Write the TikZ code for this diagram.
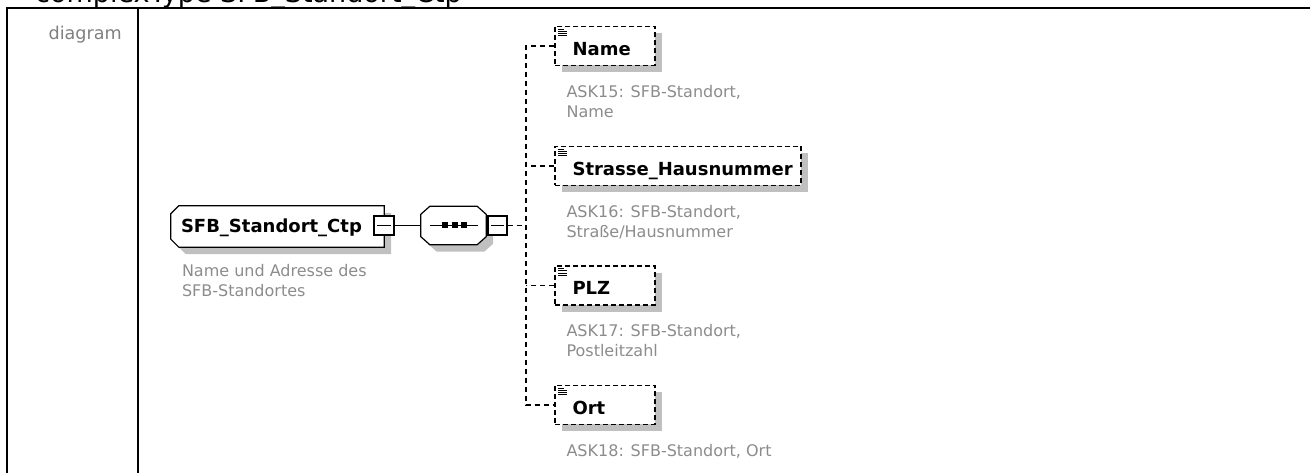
\documentclass[tikz,border=0pt]{standalone}
\usepackage{fontspec}
\setmainfont{DejaVu Sans}
\usetikzlibrary{positioning, calc, shadows}

\definecolor{descgray}{HTML}{8C8C8C}
\definecolor{shadowgray}{HTML}{C0C0C0}

\begin{document}
\begin{tikzpicture}[x=1pt, y=1pt,
    boxline/.style={line width=1.2pt},
    conn/.style={line width=1.3pt, dash pattern=on 5pt off 4pt},
    boxshadow/.style={general shadow={shadow xshift=7pt, shadow yshift=-7pt, fill=shadowgray}},
    outline/.style={boxline, draw, fill=white, boxshadow},
    frame/.style 2 args={minimum width=#1, minimum height=#2, inner sep=0pt},
    minusbox/.style={boxline, draw, fill=white, minimum width=20pt, minimum height=19pt, inner sep=0pt,
        path picture={\draw[line width=1.2pt] ([xshift=3pt]path picture bounding box.west) -- ([xshift=-3pt]path picture bounding box.east);}},
    elbox/.style={line width=1.3pt, draw, fill=white, boxshadow, dash pattern=on 5pt off 3pt,
        minimum width=#1, minimum height=39pt, inner sep=0pt,
        path picture={
            \foreach \i/\w in {1/6,2/9,3/9,4/9}
                \draw[solid, line width=1pt] ([xshift=3pt, yshift=-\i*2.2pt-0.5pt]path picture bounding box.north west) -- ++(\w pt,0);
        }},
    elname/.style={font=\fontsize{18}{22}\selectfont\bfseries, inner sep=0pt, anchor=base west},
    desc/.style={font=\fontsize{16}{20}\selectfont, text=descgray, align=left, inner sep=0pt, anchor=base west}]

    \useasboundingbox (0,0) rectangle (1310,473);
    \clip (0,0) rectangle (1310,473);

    % Table frame and header
    \draw[line width=2pt] (7,0) -- (7,465) -- (1310,465);
    \draw[line width=2pt] (138,0) -- (138,465);
    \node[anchor=base west, inner sep=0pt, font=\fontsize{27}{32}\selectfont] (title) at (35,470.5) {complexType SFB\_Standort\_Ctp};
    \node[anchor=base east, inner sep=0pt, text=gray, font=\fontsize{17.6}{21}\selectfont] (diag) at (122,433) {diagram};

    % Complex type
    \node[frame={213pt}{41pt}] (ctp) at (277.5,246.5) {};
    \draw[outline] (ctp.north east) -- ([xshift=8pt]ctp.north west) -- ([yshift=-8pt]ctp.north west)
        -- ([yshift=8pt]ctp.south west) -- ([xshift=8pt]ctp.south west) -- (ctp.south east) -- cycle;
    \node[elname] (ctpt) at ([xshift=10pt, yshift=-6.5pt]ctp.west) {SFB\_Standort\_Ctp};
    \node[desc] (ctpd) at ([xshift=11pt, yshift=-49pt]ctp.south west) {Name und Adresse des\\SFB-Standortes};
    \node[minusbox] (ctpm) at (384,247.5) {};

    % Sequence
    \node[frame={65pt}{38pt}] (seq) at (453.5,247.5) {};
    \draw[outline] ([xshift=-9pt]seq.north east) -- ([xshift=9pt]seq.north west) -- ([yshift=-8pt]seq.north west)
        -- ([yshift=8pt]seq.south west) -- ([xshift=9pt]seq.south west) -- ([xshift=-9pt]seq.south east)
        -- ([yshift=8pt]seq.south east) -- ([yshift=-8pt]seq.north east) -- cycle;
    \draw[boxline] ([xshift=9pt]seq.west) -- ([xshift=-8pt]seq.east);
    \foreach \d in {-8.5,1,10.5}
        \fill[black] ([xshift=\d pt]seq.center) +(-3pt,-3pt) rectangle +(3pt,3pt);
    \node[minusbox, minimum width=19pt] (seqm) at (497.5,247.5) {};
    \coordinate (spine) at (526,247.5);

    % Child elements
    \node[elbox=100pt] (name) at (605,427) {};
    \node[elname] (namet) at ([xshift=18pt, yshift=-9.5pt]name.west) {Name};
    \node[desc] (named) at ([xshift=12pt, yshift=-51pt]name.south west) {ASK15: SFB-Standort,\\Name};

    \node[elbox=246pt] (str) at (678,307) {};
    \node[elname] (strt) at ([xshift=18pt, yshift=-9.5pt]str.west) {Strasse\_Hausnummer};
    \node[desc] (strd) at ([xshift=12pt, yshift=-51pt]str.south west) {ASK16: SFB-Standort,\\Straße/Hausnummer};

    \node[elbox=100pt] (plz) at (605,187.5) {};
    \node[elname] (plzt) at ([xshift=18pt, yshift=-9.5pt]plz.west) {PLZ};
    \node[desc] (plzd) at ([xshift=12pt, yshift=-51pt]plz.south west) {ASK17: SFB-Standort,\\Postleitzahl};

    \node[elbox=100pt] (ort) at (605,68) {};
    \node[elname] (ortt) at ([xshift=18pt, yshift=-9.5pt]ort.west) {Ort};
    \node[desc] (ortd) at ([xshift=12pt, yshift=-31pt]ort.south west) {ASK18: SFB-Standort, Ort};

    % Connectors
    \draw[boxline] (ctpm) -- (seq);
    \draw[conn] (seqm) -- (spine);
    \draw[conn] (name.west) -| (spine) |- (ort.west);
    \draw[conn] (str.west) -- (str.west -| spine);
    \draw[conn] (plz.west) -- (plz.west -| spine);
\end{tikzpicture}
\end{document}
